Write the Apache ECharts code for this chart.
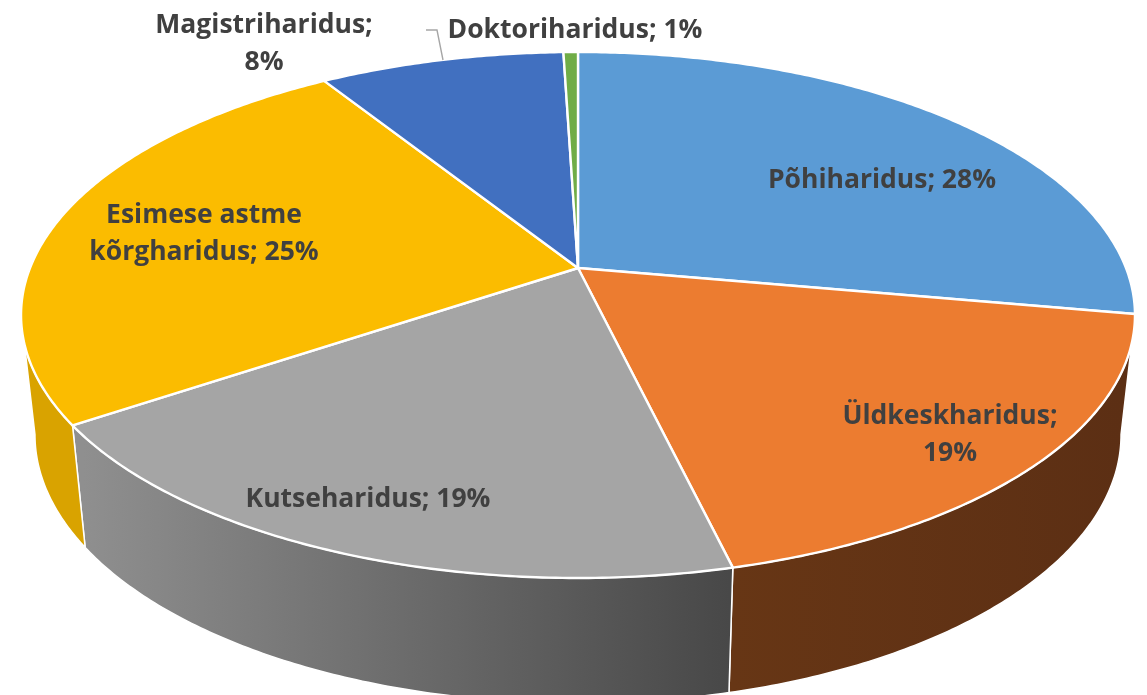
<!DOCTYPE html>
<html>
<head>
<meta charset="utf-8">
<title>Haridus</title>
<style>
  html, body { margin: 0; padding: 0; background: #fff; }
  #chart { width: 1147px; height: 695px; }
</style>
<script src="https://cdn.jsdelivr.net/npm/echarts@6/dist/echarts.min.js"></script>
</head>
<body>
<div id="chart"></div>
<script>
// Data
const categories = ['Põhiharidus', 'Üldkeskharidus', 'Kutseharidus', 'Esimese astme kõrgharidus', 'Magistriharidus', 'Doktoriharidus'];
const sliceValues = [27.8, 18.45, 19.35, 25.45, 8.45, 0.5];
const percentLabels = ['28%', '19%', '19%', '25%', '8%', '1%'];

const topColors = ['#5B9BD5', '#EC7C30', '#A5A5A5', '#FBBC00', '#4170C0', '#70AD47'];
// wall gradient: colour at left and right end, x range of the gradient
const wallColors = [
  null,
  ['#673615', '#5C2F14', 733, 1122],
  ['#8F8F8F', '#484848', 84, 729],
  ['#D9A300', '#D9A300', 22, 84],
  null,
  null
];
const labelLayout = [
  { x: 882, y: 180 },
  { x: 950, y: 435, breakAfter: ';' },
  { x: 368, y: 499 },
  { x: 204, y: 234, breakAfter: 'astme' },
  { x: 264, y: 44, breakAfter: ';' },
  { x: 575, y: 30 }
];

// Perspective disc: maps an angle (clockwise from 12 o'clock) to the screen
const CX = 578, CY = 268, RX = 548, RY = 206.7, TILT = -0.1787;
const total = sliceValues.reduce((a, b) => a + b, 0);

function topPoint(theta) {
  const u = Math.sin(theta), v = -Math.cos(theta);
  const w = 1 + TILT * v;
  return [CX + RX * u / w, (CY + RY * v) / w];
}
function bottomPoint(theta) {
  const p = topPoint(theta);
  return [CX + (p[0] - CX) * 0.975, p[1] + 122 + 0.021 * (p[1] - 425)];
}
function sliceAngles(i) {
  let before = 0;
  for (let k = 0; k < i; k++) before += sliceValues[k];
  return [before / total * 2 * Math.PI, (before + sliceValues[i]) / total * 2 * Math.PI];
}
function arc(fn, a0, a1) {
  const pts = [];
  const n = Math.max(2, Math.ceil(Math.abs(a1 - a0) / 0.01));
  for (let k = 0; k <= n; k++) pts.push(fn(a0 + (a1 - a0) * k / n));
  return pts;
}

// only this part of the rim faces the viewer
const WALL_FROM = Math.acos(TILT), WALL_TO = 2 * Math.PI - Math.acos(TILT);

const chart = echarts.init(document.getElementById('chart'));

function renderWall(params, api) {
  const i = api.value(0);
  const c = wallColors[i];
  const [a0, a1] = sliceAngles(i);
  const from = Math.max(a0, WALL_FROM), to = Math.min(a1, WALL_TO);
  if (!c || to <= from) return { type: 'group', children: [] };
  const points = arc(topPoint, from, to).concat(arc(bottomPoint, to, from));
  return {
    type: 'polygon',
    shape: { points: points },
    style: {
      fill: new echarts.graphic.LinearGradient(c[2], 0, c[3], 0, [
        { offset: 0, color: c[0] },
        { offset: 1, color: c[1] }
      ], true),
      stroke: '#fff',
      lineWidth: 1.5,
      lineJoin: 'round'
    }
  };
}

function renderTop(params, api) {
  const i = api.value(0);
  const [a0, a1] = sliceAngles(i);
  const points = [[CX, CY]].concat(arc(topPoint, a0, a1));
  return {
    type: 'polygon',
    shape: { points: points },
    style: { fill: topColors[i], stroke: '#fff', lineWidth: 2.4, lineJoin: 'round' }
  };
}

function renderLabel(params, api) {
  const i = api.value(0);
  const l = labelLayout[i];
  let text = categories[i] + '; ' + percentLabels[i];
  if (l.breakAfter) text = text.replace(l.breakAfter + ' ', l.breakAfter + '\n');
  const children = [{
    type: 'text',
    style: {
      text: text, x: l.x, y: l.y, align: 'center', verticalAlign: 'middle',
      font: '700 26.5px "Open Sans"', lineHeight: 37, fill: '#404040'
    }
  }];
  // leader line from the Magistriharidus label to its slice
  if (i === 4) {
    children.push({
      type: 'polyline',
      shape: { points: [[426, 30], [437, 30], [443, 60]] },
      style: { stroke: '#A6A6A6', lineWidth: 1.4, fill: null }
    });
  }
  return { type: 'group', children: children };
}

const seriesData = sliceValues.map((v, i) => [i, v]);

chart.setOption({
  animation: false,
  backgroundColor: '#fff',
  series: [
    { type: 'custom', coordinateSystem: 'none', renderItem: renderWall, data: seriesData, z: 1, silent: true },
    { type: 'custom', coordinateSystem: 'none', renderItem: renderTop, data: seriesData, z: 2, silent: true },
    { type: 'custom', coordinateSystem: 'none', renderItem: renderLabel, data: seriesData, z: 3, silent: true }
  ]
});
</script>
</body>
</html>
